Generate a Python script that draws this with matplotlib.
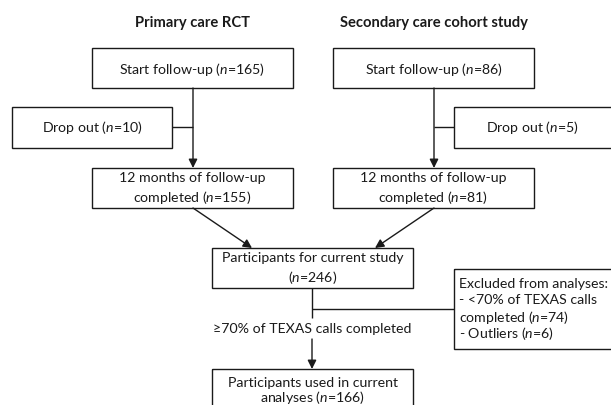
import matplotlib.pyplot as plt
from matplotlib.patches import Rectangle

# ── Flow counts ──────────────────────────────────────────────────────────────
studies = ["Primary care RCT", "Secondary care cohort study"]
start_n = [165, 86]
dropout_n = [10, 5]
completed_n = [155, 81]
pooled_n = 246
excluded_low_calls_n = 74
excluded_outliers_n = 6
analysed_n = 166
call_threshold = "≥70% of TEXAS calls completed"

N = r"$\mathit{n}$"

plt.rcParams.update({
    "font.family": ["Lato", "DejaVu Sans"],
    "mathtext.fontset": "custom",
    "mathtext.rm": "Lato",
    "mathtext.it": "Lato:italic",
    "mathtext.bf": "Lato:bold",
})

LINE = "#1a1a1a"
TXT = "#1a1a1a"
FS = 10.2

fig = plt.figure(figsize=(6.11, 4.05), dpi=100)
ax = fig.add_axes([0, 0, 1, 1])
ax.set_xlim(0, 611)
ax.set_ylim(405, 0)
ax.axis("off")


def rect(x0, y0, x1, y1):
    ax.add_patch(Rectangle((x0, y0), x1 - x0, y1 - y0, fill=False,
                           edgecolor=LINE, linewidth=1.0))


def label(x, y, s, ha="center"):
    ax.text(x, y, s, ha=ha, va="center", fontsize=FS, color=TXT,
            linespacing=1.35)


def seg(x0, y0, x1, y1):
    ax.plot([x0, x1], [y0, y1], color=LINE, linewidth=1.0,
            solid_capstyle="butt")


def arrow(x0, y0, x1, y1):
    ax.annotate("", xy=(x1, y1), xytext=(x0, y0),
                arrowprops=dict(arrowstyle="-|>", color=LINE, lw=1.0,
                                mutation_scale=13, shrinkA=0, shrinkB=0))


# column layout (pixel coords)
cols = [(92, 293), (333, 534)]
centres = [193, 434]
drop_boxes = [(12, 172), (454, 640)]
drop_text_x = [92, 532]

for i in range(2):
    x0, x1 = cols[i]
    cx = centres[i]
    ax.text((x0 + x1) / 2, 23, studies[i], ha="center", va="center",
            fontsize=10.6, fontweight="bold", color=TXT)
    rect(x0, 48, x1, 88)
    label((x0 + x1) / 2, 69, f"Start follow-up ({N}={start_n[i]})")
    dx0, dx1 = drop_boxes[i]
    rect(dx0, 107, dx1, 148)
    label(drop_text_x[i], 128, f"Drop out ({N}={dropout_n[i]})")
    if i == 0:
        seg(dx1, 127, cx, 127)
    else:
        seg(cx, 127, dx0, 127)
    arrow(cx, 88, cx, 168)
    rect(x0, 168, x1, 208)
    label((x0 + x1) / 2, 189, "12 months of follow-up\n"
          f"completed ({N}={completed_n[i]})")

# pooled box
arrow(centres[0], 208, 252, 248)
arrow(centres[1], 208, 375, 248)
rect(212, 248, 413, 288)
label(312.5, 269, f"Participants for current study\n({N}={pooled_n})")

# exclusion branch
seg(312, 288, 312, 318)
seg(312, 309, 454, 309)
rect(454, 269, 654, 349)
excl_lines = ["Excluded from analyses:",
              "- <70% of TEXAS calls",
              f"completed ({N}={excluded_low_calls_n})",
              f"- Outliers ({N}={excluded_outliers_n})"]
for k, t in enumerate(excl_lines):
    label(459, 284 + k * 16.5, t, ha="left")

label(312, 329, call_threshold)
arrow(312, 339, 312, 369)

rect(212, 369, 413, 440)
label(312.5, 383, "Participants used in current")
label(312.5, 398, f"analyses ({N}={analysed_n})")

fig.savefig("out.png", dpi=100, facecolor="white")
